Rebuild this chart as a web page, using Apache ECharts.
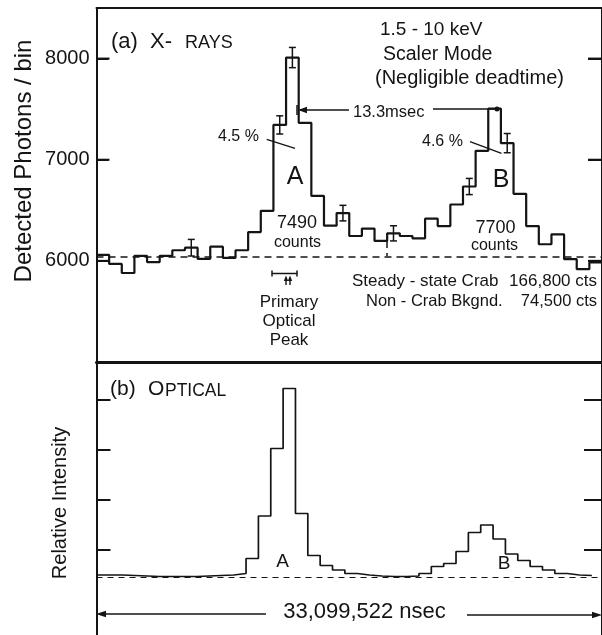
<!DOCTYPE html>
<html>
<head>
<meta charset="utf-8">
<script src="https://cdn.jsdelivr.net/npm/echarts@6/dist/echarts.min.js"></script>
<style>html,body{margin:0;padding:0;background:#fff;}#c{width:602px;height:635px;}</style>
</head>
<body>
<div id="c"></div>
<script>
// ---- data ----
// (a) X-rays: detected photons per phase bin, 40 bins per pulse period
const xrayCounts = [6060, 5970, 5880, 6050, 5988, 6050, 6105, 6130, 6020, 6140,
                    6030, 6105, 6285, 6495, 7344, 8010, 7365, 6642, 6348, 6472,
                    6246, 6319, 6197, 6272, 6246, 6223, 6417, 6344, 6557, 6735,
                    7088, 7505, 7164, 6663, 6344, 6164, 6262, 6017, 5918, 5984];
const errorBins = [7, 14, 15, 19, 23, 29, 32];
const errorHalf = [82, 90, 100, 77, 75, 80, 95];
const xrayBaseline = 6045;
const interpulseEdge = 23;
const xrayTicks = [6000, 7000, 8000];
// (b) optical: relative intensity per phase bin
const opticalIntensity = [0.49, 0.49, 0.48, 0.47, 0.46, 0.46, 0.46, 0.46, 0.47, 0.48,
                          0.49, 0.52, 0.82, 1.67, 3.02, 4.22, 1.72, 0.88, 0.68, 0.59,
                          0.52, 0.49, 0.47, 0.46, 0.46, 0.47, 0.52, 0.66, 0.72, 0.96,
                          1.34, 1.49, 1.21, 0.91, 0.78, 0.66, 0.59, 0.52, 0.49, 0.48];
const opticalBaseline = 0.44;
const opticalTicks = [1, 2, 3, 4];

// ---- chart ----
const FONT = 'Liberation Sans, Arial, sans-serif';
const INK = '#141414';
const X_BINS = 40;
const stepData = arr => arr.map((v, i) => [i, v]).concat([[arr.length, arr[arr.length - 1]]]);

function txt(text, x, y, size, align, extra) {
  return Object.assign({
    type: 'text', x: x, y: y, silent: true,
    style: { text: text, fill: INK, fontSize: size, fontFamily: FONT,
             align: align || 'left', verticalAlign: 'middle' }
  }, extra || {});
}
function ln(x1, y1, x2, y2, w) {
  return { type: 'line', silent: true, z: 100, shape: { x1: x1, y1: y1, x2: x2, y2: y2 },
           style: { stroke: INK, lineWidth: w || 1.5 } };
}
function tri(points) {
  return { type: 'polygon', silent: true, shape: { points: points }, style: { fill: INK } };
}

const chart = echarts.init(document.getElementById('c'), null, { renderer: 'canvas' });
const axisLine = w => ({ show: true, onZero: false, lineStyle: { color: INK, width: w } });
const tick = (len, vals) => ({ show: true, inside: true, length: len, customValues: vals,
                               lineStyle: { color: INK, width: 2 } });

chart.setOption({
  animation: false,
  backgroundColor: '#fff',
  grid: [
    { left: 96.5, top: 8, width: 510, height: 354 },
    { left: 96.5, top: 362, width: 510, height: 273 }
  ],
  xAxis: [
    { gridIndex: 0, type: 'value', min: 0, max: X_BINS, position: 'bottom',
      axisLine: axisLine(3), axisTick: { show: false }, axisLabel: { show: false }, splitLine: { show: false } },
    { gridIndex: 0, type: 'value', min: 0, max: X_BINS, position: 'top',
      axisLine: axisLine(2), axisTick: { show: false }, axisLabel: { show: false }, splitLine: { show: false } },
    { gridIndex: 1, type: 'value', min: -0.11, max: 40.82, show: false, axisLine: { onZero: false } }
  ],
  yAxis: [
    { gridIndex: 0, type: 'value', min: 5000, max: 8500, position: 'left',
      axisLine: axisLine(2), axisTick: tick(12, xrayTicks),
      axisLabel: { show: true, customValues: xrayTicks, margin: 7, color: INK, fontSize: 20, fontFamily: FONT,
                   formatter: v => String(v) },
      splitLine: { show: false } },
    { gridIndex: 0, type: 'value', min: 5000, max: 8500, position: 'right',
      axisLine: axisLine(2), axisTick: tick(14, xrayTicks),
      axisLabel: { show: false }, splitLine: { show: false } },
    { gridIndex: 1, type: 'value', min: -0.71, max: 4.75, position: 'left',
      axisLine: axisLine(2), axisTick: tick(14, opticalTicks),
      axisLabel: { show: false }, splitLine: { show: false } },
    { gridIndex: 1, type: 'value', min: -0.71, max: 4.75, position: 'right',
      axisLine: axisLine(2), axisTick: tick(18, opticalTicks),
      axisLabel: { show: false }, splitLine: { show: false } }
  ],
  series: [
    { name: 'X-rays', type: 'line', xAxisIndex: 0, yAxisIndex: 0, step: 'end',
      data: stepData(xrayCounts), symbol: 'none', silent: true,
      lineStyle: { color: INK, width: 2.2 },
      markLine: { silent: true, symbol: ['none', 'none'], label: { show: false },
        lineStyle: { color: INK, width: 1.5, type: [7, 5] },
        data: [
          { yAxis: xrayBaseline },
          [ { coord: [interpulseEdge, xrayCounts[interpulseEdge - 1]] }, { coord: [interpulseEdge, xrayBaseline] } ]
        ] } },
    { name: 'errors', type: 'custom', xAxisIndex: 0, yAxisIndex: 0, silent: true,
      data: errorBins.map((b, i) => [b + 0.5, xrayCounts[b], errorHalf[i]]),
      renderItem: function (params, api) {
        const x = api.value(0), v = api.value(1), e = api.value(2);
        const t = api.coord([x, v + e]), b = api.coord([x, v - e]);
        const st = { stroke: INK, lineWidth: 1.5 };
        return { type: 'group', children: [
          { type: 'line', shape: { x1: t[0], y1: t[1], x2: b[0], y2: b[1] }, style: st },
          { type: 'line', shape: { x1: t[0] - 3.5, y1: t[1], x2: t[0] + 3.5, y2: t[1] }, style: st },
          { type: 'line', shape: { x1: b[0] - 3.5, y1: b[1], x2: b[0] + 3.5, y2: b[1] }, style: st }
        ] };
      } },
    { name: 'Optical', type: 'line', xAxisIndex: 2, yAxisIndex: 2, step: 'end',
      data: stepData(opticalIntensity), symbol: 'none', silent: true,
      lineStyle: { color: INK, width: 1.7 },
      markLine: { silent: true, symbol: ['none', 'none'], label: { show: false },
        lineStyle: { color: INK, width: 1.2, type: [6, 5] },
        data: [ { yAxis: opticalBaseline } ] } }
  ]
});

// tick marks of panel (a), placed through the library's own scale
const tickMarks = [];
xrayTicks.forEach(function (v) {
  const l = chart.convertToPixel({ xAxisIndex: 0, yAxisIndex: 0 }, [0, v]);
  const r = chart.convertToPixel({ xAxisIndex: 0, yAxisIndex: 0 }, [X_BINS, v]);
  tickMarks.push(ln(l[0], l[1], l[0] + 13, l[1], 2));
  tickMarks.push(ln(r[0], r[1], r[0] - 14, r[1], 2));
});

chart.setOption({
  graphic: tickMarks.concat([
    // panel (a) texts
    txt('(a)  X-', 111, 42, 22),
    txt('RAYS', 185, 43.5, 18),
    txt('1.5 - 10 keV', 380, 30, 19),
    txt('Scaler Mode', 383, 55, 19.5),
    txt('(Negligible deadtime)', 375, 78.5, 20),
    txt('13.3msec', 353, 112, 16.5),
    txt('4.5 %', 218, 136.5, 16),
    txt('4.6 %', 422, 141.5, 16),
    txt('A', 295, 177.5, 25, 'center'),
    txt('B', 501, 180, 25, 'center'),
    txt('7490', 297, 223, 18, 'center'),
    txt('counts', 297.5, 243, 16, 'center'),
    txt('7700', 495.5, 228, 18, 'center'),
    txt('counts', 494.5, 245.5, 16, 'center'),
    txt('Steady - state Crab', 352, 281.7, 17),
    txt('166,800 cts', 597, 281.7, 17, 'right'),
    txt('Non - Crab Bkgnd.', 366, 301.7, 16.5),
    txt('74,500 cts', 597, 301.7, 16.5, 'right'),
    txt('Primary', 289, 302, 17, 'center'),
    txt('Optical', 289, 321, 17, 'center'),
    txt('Peak', 289, 340, 17, 'center'),
    txt('Detected Photons / bin', 24, 161, 24, 'center', { rotation: Math.PI / 2 }),
    // annotation strokes (a)
    ln(266.7, 139.3, 295, 148.3, 1.3),
    ln(470, 141.7, 501.5, 153.3, 1.3),
    ln(297, 105, 297, 115, 1.5),
    ln(300, 110, 349, 110, 1.5),
    tri([[298, 110], [307, 106.8], [307, 113.2]]),
    ln(433, 109, 496, 109, 1.5),
    { type: 'circle', silent: true, shape: { cx: 497, cy: 109, r: 2.5 }, style: { fill: INK } },
    ln(272, 273.5, 297, 273.5, 1.5),
    ln(272, 270.5, 272, 276.5, 1.5),
    ln(297, 270.5, 297, 276.5, 1.5),
    ln(286, 279, 286, 285, 1.4),
    ln(290, 279, 290, 285, 1.4),
    tri([[286, 275.5], [283.8, 281], [288.2, 281]]),
    tri([[290, 275.5], [287.8, 281], [292.2, 281]]),
    // panel (b) texts
    txt('(b)', 110, 389, 21),
    txt('O', 148, 389, 21),
    txt('PTICAL', 165, 391, 17.5),
    txt('A', 282.5, 562, 19, 'center'),
    txt('B', 504, 563.5, 19, 'center'),
    txt('Relative Intensity', 60, 503, 20, 'center', { rotation: Math.PI / 2 }),
    txt('33,099,522 nsec', 364.5, 611.5, 22, 'center'),
    ln(100, 614, 266, 614, 1.5),
    tri([[96, 614], [106, 610.8], [106, 617.2]]),
    ln(467, 615, 597, 615, 1.5),
    tri([[602, 615], [592, 611.8], [592, 618.2]])
  ])
});
</script>
</body>
</html>
